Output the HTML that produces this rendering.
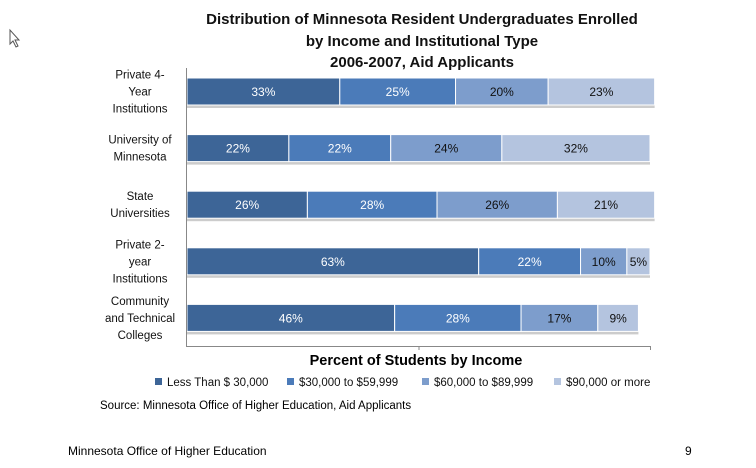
<!DOCTYPE html>
<html><head><meta charset="utf-8"><style>
body{margin:0;background:#fff;font-family:"Liberation Sans",sans-serif}
svg text{font-family:"Liberation Sans",sans-serif}
</style></head><body>
<svg width="756" height="463" xmlns="http://www.w3.org/2000/svg">
<g font-weight="bold" font-size="15" text-anchor="middle" fill="#111">
<text x="422" y="24">Distribution of Minnesota Resident Undergraduates Enrolled</text>
<text x="422" y="46">by Income and Institutional Type</text>
<text x="422" y="67">2006-2007, Aid Applicants</text>
</g>
<g id="cats" font-size="11.5" text-anchor="middle" fill="#111"></g>
<g id="bars"></g>
<line x1="186.5" y1="68" x2="186.5" y2="347" stroke="#888"/>
<line x1="186" y1="346.5" x2="651" y2="346.5" stroke="#888"/>
<line x1="419" y1="346" x2="419" y2="350" stroke="#888"/>
<line x1="650.5" y1="346" x2="650.5" y2="350" stroke="#888"/>
<text x="416" y="365" font-size="14.5" font-weight="bold" text-anchor="middle">Percent of Students by Income</text>
<g id="legend" font-size="11.5" fill="#111"></g>
<text x="100" y="409" font-size="11.5">Source: Minnesota Office of Higher Education, Aid Applicants</text>
<text x="68" y="455" font-size="12">Minnesota Office of Higher Education</text>
<text x="685" y="455" font-size="12">9</text>
<path d="M10 30 L10 44 L13 41 L16 47 L18 46 L15 40 L19 40 Z" fill="#fff" stroke="#555"/>
</svg>
<script>
const categories=[["Private 4-","Year","Institutions"],["University of","Minnesota"],["State","Universities"],["Private 2-","year","Institutions"],["Community","and Technical","Colleges"]];
const seriesNames=["Less Than $ 30,000","$30,000 to $59,999","$60,000 to $89,999","$90,000 or more"];
const lt30=[33,22,26,63,46];
const s30to60=[25,22,28,22,28];
const s60to90=[20,24,26,10,17];
const s90plus=[23,32,21,5,9];
const series=[lt30,s30to60,s60to90,s90plus];
const colors=["#3d6597","#4b7bb9","#7d9dcc","#b4c4df"];
const textColors=["#fff","#fff","#111","#111"];
const NS="http://www.w3.org/2000/svg";
const x0=187,xScale=v=>v*4.63;
const rowY=i=>78+i*56.6;
const bh=27;
const bars=document.getElementById('bars'),cats=document.getElementById('cats');
function mk(t,a,p){const e=document.createElementNS(NS,t);for(const k in a)e.setAttribute(k,a[k]);p.appendChild(e);return e;}
categories.forEach((c,i)=>{
 const y=rowY(i);
 const lines=c.length;
 const g=mk('g',{},cats);
 
 
 c.forEach((l,j)=>{const t=mk('text',{x:140,y:y+bh/2+4+(j-(lines-1)/2)*17},g);t.textContent=l;});
 let acc=0,tot=0;series.forEach(s=>tot+=s[i]);
 const f=(i===4)?0.975:1;
 const sh=mk('rect',{x:x0,y:y+bh,width:xScale(tot)*f,height:3,fill:"#ccc"},bars);
 
 
 series.forEach((s,k)=>{
  const x=x0+xScale(acc)*f,w=xScale(s[i])*f;
  const r=mk('rect',{x:x,y:y,width:w,height:bh,fill:colors[k],stroke:"#fff","stroke-width":1},bars);
  
  
  const t=mk('text',{x:x+w/2,y:y+bh/2+4.5,"text-anchor":"middle","font-size":"12",fill:textColors[k]},bars);
  t.textContent=s[i]+"%";
  
  
  acc+=s[i];
 });
});
const legend=document.getElementById('legend');
const lx=[155,287,422,554];
seriesNames.forEach((n,k)=>{
 const g=mk('g',{},legend);
 
 
 mk('rect',{x:lx[k],y:378,width:7,height:7,fill:colors[k]},g);
 const t=mk('text',{x:lx[k]+12,y:386},g);t.textContent=n;
});
</script>
</body></html>
